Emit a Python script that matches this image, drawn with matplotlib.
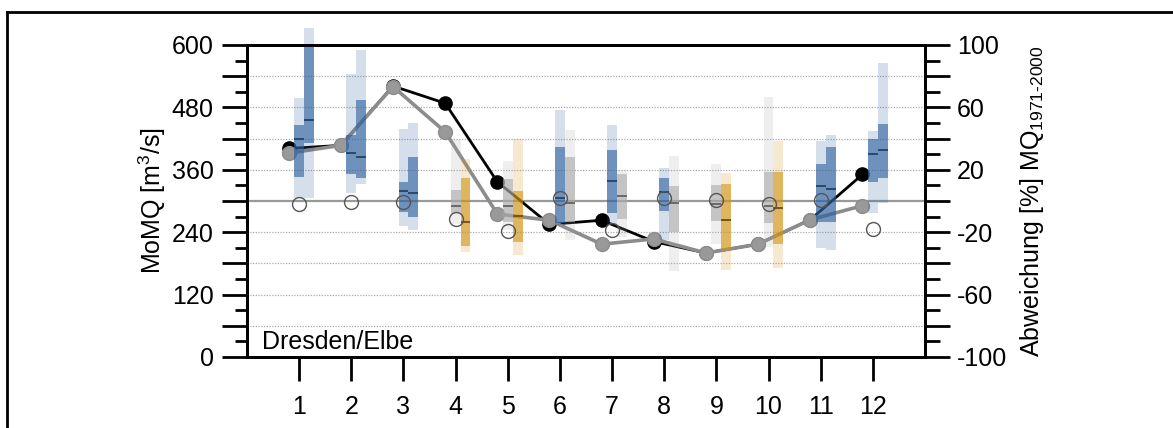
import matplotlib
matplotlib.use("Agg")
import matplotlib.pyplot as plt
from matplotlib.lines import Line2D
from matplotlib.ticker import FixedLocator, FuncFormatter

plt.rcParams['font.family'] = ['Liberation Sans', 'DejaVu Sans']
plt.rcParams['mathtext.fontset'] = 'custom'
plt.rcParams['mathtext.rm'] = 'Liberation Sans'
plt.rcParams['mathtext.it'] = 'Liberation Sans'

# data
months = [1, 2, 3, 4, 5, 6, 7, 8, 9, 10, 11, 12]
mq_black = [401, 407, 521, 488, 337, 255, 263, 222, 200, 217, 264, 351]
mq_gray = [392, 407, 520, 433, 275, 263, 217, 227, 200, 217, 264, 291]
mq_open = [294, 299, 299, 265, 243, 306, 244, 305, 301, 294, 302, 247]

# left bar per month: min, q25, median, q75, max, class
left_min = [305, 316, 252, 255, 244, 254, 254, 225, 218, 212, 209, 276]
left_q25 = [347, 352, 278, 276, 260, 258, 276, 281, 262, 258, 260, 336]
left_med = [419, 393, 320, 290, 290, 306, 339, 318, 295, 290, 328, 390]
left_q75 = [447, 427, 337, 322, 342, 403, 398, 345, 331, 356, 372, 419]
left_max = [499, 544, 438, 419, 377, 475, 446, 363, 371, 500, 415, 435]
left_cls = ['nass', 'nass', 'nass', 'normal', 'normal', 'nass',
            'nass', 'nass', 'normal', 'normal', 'nass', 'nass']

# right bar per month
right_min = [305, 332, 245, 201, 196, 225, 230, 166, 167, 171, 205, 296]
right_q25 = [412, 345, 269, 213, 222, 260, 265, 241, 206, 217, 260, 345]
right_med = [456, 384, 316, 259, 272, 297, 310, 297, 263, 286, 324, 398]
right_q75 = [598, 494, 385, 345, 319, 384, 352, 329, 332, 356, 403, 448]
right_max = [632, 590, 450, 380, 419, 436, 360, 387, 353, 415, 427, 565]
right_cls = ['nass', 'nass', 'nass', 'trocken', 'trocken', 'normal',
             'normal', 'normal', 'trocken', 'trocken', 'nass', 'nass']

mq_ref = 300

base_col = {'nass': '#2e62a0', 'normal': '#aaaaaa', 'trocken': '#d39418'}
med_col = {'nass': '#2a4868', 'normal': '#6a6a6a', 'trocken': '#7a5616'}

fs = 18

fig = plt.figure(figsize=(11.73, 4.28), dpi=100)
ax = fig.add_axes([247/1173, 1-357/428, 678/1173, 312/428])

# grid
for g in [60, 120, 180, 240, 360, 420, 480, 540]:
    ax.axhline(g, color='#aaaaaa', lw=0.9, ls=(0, (1, 1.2)), zorder=1)
ax.axhline(mq_ref, color='#999999', lw=1.6, zorder=1)

# lines
ax.plot([m - 0.2 for m in months], mq_black, color='black', lw=2,
        marker='o', ms=9.5, mfc='black', mec='black', zorder=2)
ax.plot([m - 0.2 for m in months], mq_gray, color='#8c8c8c', lw=2.6,
        marker='o', ms=10, mfc='#999999', mec='#8c8c8c', zorder=2.5)


def draw_bars(xs, lo, q1, md, q3, hi, cls, w):
    for x, a, b, c, d, e, k in zip(xs, lo, q1, md, q3, hi, cls):
        col = base_col[k]
        ax.bar(x, e - a, bottom=a, width=w, color=col, alpha=0.2,
               lw=0, zorder=3, clip_on=False)
        ax.bar(x, d - b, bottom=b, width=w, color=col, alpha=0.61,
               lw=0, zorder=3.1, clip_on=False)
        ax.hlines(c, x - w/2, x + w/2, color=med_col[k], lw=1.4, zorder=3.2)


bw = 0.19
draw_bars(months, left_min, left_q25, left_med, left_q75, left_max, left_cls, bw)
draw_bars([m + 0.19 for m in months], right_min, right_q25, right_med,
          right_q75, right_max, right_cls, bw)

ax.plot(months, mq_open, ls='none', marker='o', ms=10, mfc='none',
        mec='#555555', mew=1.0, zorder=4)

ax.set_xlim(0, 13)
ax.set_ylim(0, 600)
ax.set_xticks(months)
ax.set_yticks(range(0, 601, 60))
ax.yaxis.set_major_formatter(FuncFormatter(lambda v, p: '%d' % v if v % 120 == 0 else ''))
ax.yaxis.set_minor_locator(FixedLocator(range(30, 600, 60)))
ax.tick_params(axis='y', which='major', length=18, width=2, direction='out',
               labelsize=fs, pad=6)
ax.tick_params(axis='y', which='minor', length=9, width=2, direction='out')
ax.tick_params(axis='x', which='major', length=17.5, width=2, direction='out',
               labelsize=fs, pad=10)
for s in ax.spines.values():
    s.set_linewidth(2)
ax.set_ylabel('MoMQ [m$^3$/s]', fontsize=fs, labelpad=3)
ax.text(0.022, 0.048, 'Dresden/Elbe', transform=ax.transAxes, fontsize=fs,
        va='center', ha='left')

ax2 = ax.twinx()
ax2.set_ylim(-100, 100)
ax2.set_yticks(range(-100, 101, 20))
ax2.yaxis.set_major_formatter(FuncFormatter(lambda v, p: '%d' % v if v in (-100, -60, -20, 20, 60, 100) else ''))
ax2.yaxis.set_minor_locator(FixedLocator(range(-90, 100, 20)))
ax2.tick_params(axis='y', which='major', length=18, width=2, direction='out',
                labelsize=fs, pad=5)
ax2.tick_params(axis='y', which='minor', length=11, width=2, direction='out')
for s in ax2.spines.values():
    s.set_linewidth(2)
ax2.set_ylabel(r'Abweichung [%] MQ$_{\text{1971-2000}}$', fontsize=fs, labelpad=8)

# frame around the picture
fig.add_artist(Line2D([7/1173, 1], [1-12/428, 1-12/428], color='black', lw=2,
                      transform=fig.transFigure))
fig.add_artist(Line2D([7/1173, 7/1173], [0, 1-12/428], color='black', lw=2,
                      transform=fig.transFigure))

fig.savefig('out.png', dpi=100)
